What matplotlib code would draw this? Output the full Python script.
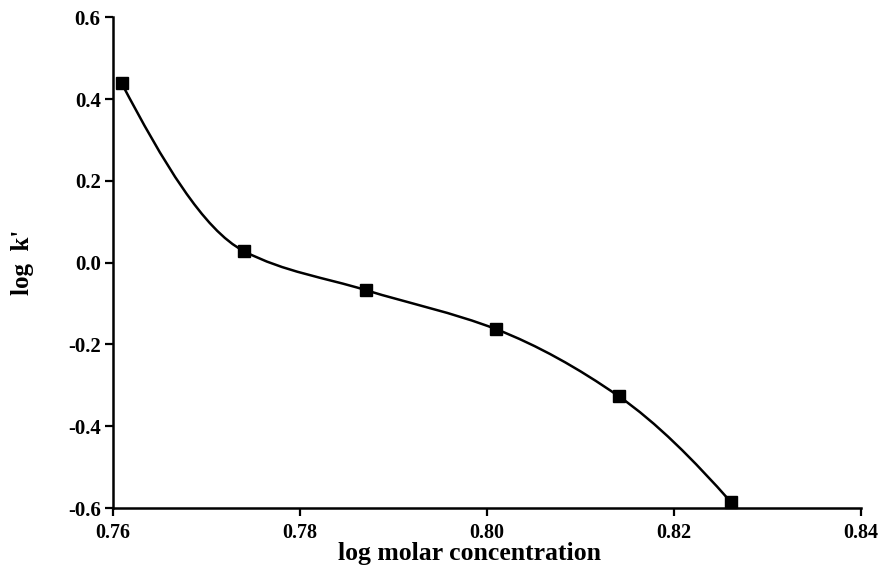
import numpy as np
import matplotlib.pyplot as plt
from matplotlib.path import Path
from matplotlib.patches import PathPatch

# data
log_conc = [0.7609, 0.774, 0.787, 0.801, 0.8141, 0.8261]
log_k = [0.439, 0.028, -0.067, -0.163, -0.327, -0.586]
x_ticks = [0.76, 0.78, 0.80, 0.82, 0.84]
y_ticks = [-0.6, -0.4, -0.2, 0.0, 0.2, 0.4, 0.6]


def pchip_slopes(x, y):
    # Fritsch-Carlson slopes (monotone piecewise cubic)
    x = np.asarray(x, float)
    y = np.asarray(y, float)
    h = np.diff(x)
    d = np.diff(y) / h
    n = len(x)
    m = np.zeros(n)
    for k in range(1, n - 1):
        if d[k - 1] * d[k] > 0:
            w1 = 2 * h[k] + h[k - 1]
            w2 = h[k] + 2 * h[k - 1]
            m[k] = (w1 + w2) / (w1 / d[k - 1] + w2 / d[k])
    m[0] = ((2 * h[0] + h[1]) * d[0] - h[0] * d[1]) / (h[0] + h[1])
    m[-1] = ((2 * h[-1] + h[-2]) * d[-1] - h[-1] * d[-2]) / (h[-1] + h[-2])
    return m


def smooth_path(xs, ys):
    # bezier form of the piecewise cubic through the points
    m = pchip_slopes(xs, ys)
    verts = [(xs[0], ys[0])]
    codes = [Path.MOVETO]
    for i in range(len(xs) - 1):
        d = (xs[i + 1] - xs[i]) / 3
        verts += [(xs[i] + d, ys[i] + d * m[i]),
                  (xs[i + 1] - d, ys[i + 1] - d * m[i + 1]),
                  (xs[i + 1], ys[i + 1])]
        codes += [Path.CURVE4] * 3
    return Path(verts, codes)


plt.rcParams['font.family'] = 'Liberation Serif'
plt.rcParams['font.weight'] = 'bold'

fig = plt.figure(figsize=(8.84, 5.76), dpi=100)
ax = fig.add_axes([0.128, 0.118, 0.846, 0.852])

ax.add_patch(PathPatch(smooth_path(log_conc, log_k), facecolor='none',
                       edgecolor='black', linewidth=1.8, zorder=2))
ax.plot(log_conc, log_k, linestyle='none', marker='s', markersize=8.5,
        color='black', clip_on=False, zorder=3)

ax.set_xlim(0.76, 0.84)
ax.set_ylim(-0.6, 0.6)
ax.set_xticks(x_ticks)
ax.set_xticklabels(['0.76', '0.78', '0.80', '0.82', '0.84'])
ax.set_yticks(y_ticks)
ax.set_yticklabels(['%.1f' % v for v in y_ticks])

for side in ['top', 'right']:
    ax.spines[side].set_visible(False)
for side in ['left', 'bottom']:
    ax.spines[side].set_linewidth(1.8)
ax.tick_params(direction='out', length=6, width=1.6)
ax.tick_params(axis='x', labelsize=14.5, pad=5)
ax.tick_params(axis='y', labelsize=15, pad=3)

ax.set_xlabel('log molar concentration', fontsize=18.5, fontweight='bold')
ax.set_ylabel("log  k'", fontsize=18, fontweight='bold', labelpad=24)
ax.xaxis.set_label_coords(0.477, -0.069, transform=ax.transAxes)
ax.xaxis.label.set_va('top')

fig.savefig('out.png', dpi=100)
